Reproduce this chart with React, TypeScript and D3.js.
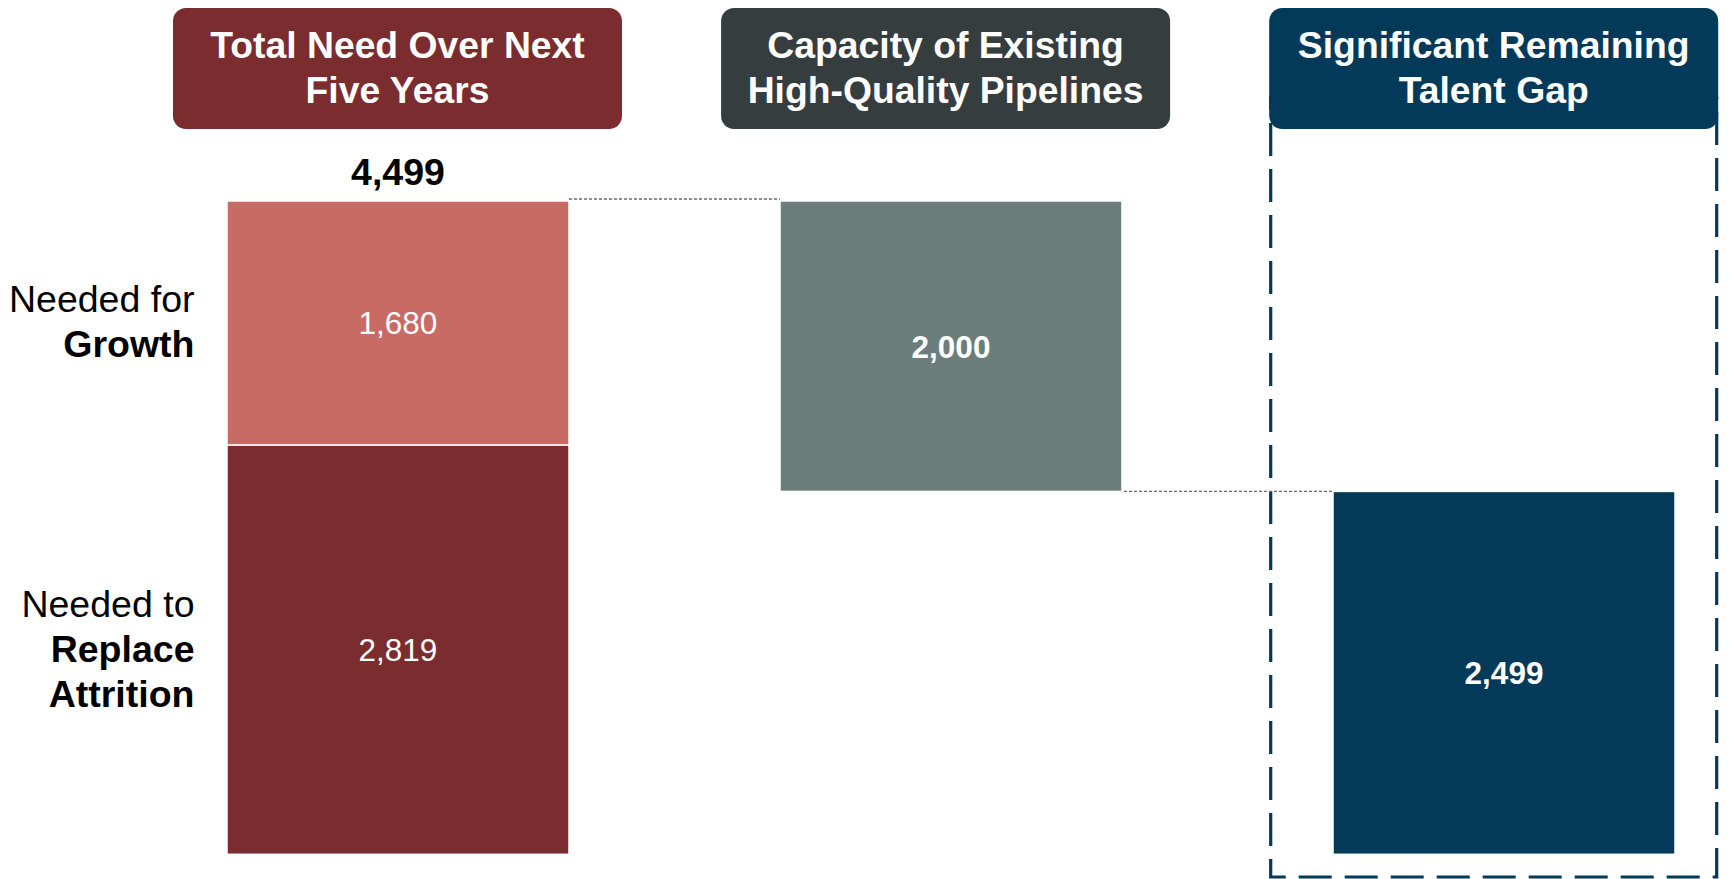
import React from "react";
import * as d3 from "d3";

const categories = ["total", "capacity", "gap"];
const headers = [
  ["Total Need Over Next", "Five Years"],
  ["Capacity of Existing", "High-Quality Pipelines"],
  ["Significant Remaining", "Talent Gap"],
];
const attrition = 2819;
const growth = 1680;
const total = 4499;
const capacity = 2000;
const gap = 2499;

const W = 1729;
const H = 879;
const FONT = "'Liberation Sans', Arial, Helvetica, sans-serif";

const C_PINK = "#C86B65";
const C_DARKRED = "#7A2C2E";
const C_BOX2 = "#363D3F";
const C_GREY = "#6C7E7C";
const C_NAVY = "#033A5A";

const fmt = d3.format(",");

export default function App() {
  const x = d3.scaleBand<string>().domain(categories).range([227, 1675]).paddingInner(0.3816).paddingOuter(0);
  const hx = d3.scaleBand<string>().domain(categories).range([173, 1718.2]).paddingInner(0.1808).paddingOuter(0);
  const y = d3.scaleLinear().domain([0, total]).range([854.3, 201]);
  const bw = x.bandwidth();

  const segs = [
    { cat: "total", y0: 0, y1: attrition, fill: C_DARKRED, label: fmt(attrition), bold: false },
    { cat: "total", y0: attrition, y1: attrition + growth, fill: C_PINK, label: fmt(growth), bold: false },
    { cat: "capacity", y0: total - capacity, y1: total, fill: C_GREY, label: fmt(capacity), bold: true },
    { cat: "gap", y0: 0, y1: gap, fill: C_NAVY, label: fmt(gap), bold: true },
  ];
  const headerFills = [C_DARKRED, C_BOX2, C_NAVY];

  const gx = hx("gap")!;
  return (
    <svg width={W} height={H} style={{ position: "absolute", left: 0, top: 0, background: "#fff" }} fontFamily={FONT}>
      {/* dashed highlight frame */}
      <rect x={gx + 1.5} y={98} width={hx.bandwidth() - 3} height={877 - 98} fill="none" stroke={C_NAVY} strokeWidth={3.2} strokeDasharray="33,13" />

      {/* connectors */}
      <line x1={x("total")! + bw} x2={x("capacity")!} y1={y(total) - 2} y2={y(total) - 2} stroke="#6a6a6a" strokeWidth={1.3} strokeDasharray="3,2" />
      <line x1={x("capacity")! + bw + 2} x2={x("gap")!} y1={y(total - capacity)} y2={y(total - capacity)} stroke="#6a6a6a" strokeWidth={1.3} strokeDasharray="3,2" />

      {/* bars */}
      {segs.map((s, i) => (
        <g key={i}>
          <rect x={x(s.cat)} y={y(s.y1)} width={bw} height={y(s.y0) - y(s.y1)} fill={s.fill} stroke="#fff" strokeWidth={1.5} />
          <text x={x(s.cat)! + bw / 2} y={(y(s.y0) + y(s.y1)) / 2} dy="0.36em" textAnchor="middle" fill="#fff" fontSize={31.5} fontWeight={s.bold ? 700 : 400}>
            {s.label}
          </text>
        </g>
      ))}

      {/* total label */}
      <text x={x("total")! + bw / 2} y={y(total) - 16} textAnchor="middle" fontSize={37.5} fontWeight={700} fill="#000">
        {fmt(total)}
      </text>

      {/* headers */}
      {categories.map((c, i) => (
        <g key={c}>
          <rect x={hx(c)} y={8} width={hx.bandwidth()} height={121} rx={13} ry={13} fill={headerFills[i]} />
          <text x={hx(c)! + hx.bandwidth() / 2} y={58} textAnchor="middle" fill="#fff" fontSize={37.3} fontWeight={700}>
            {headers[i][0]}
          </text>
          <text x={hx(c)! + hx.bandwidth() / 2} y={102.5} textAnchor="middle" fill="#fff" fontSize={37.3} fontWeight={700}>
            {headers[i][1]}
          </text>
        </g>
      ))}

      {/* side labels */}
      <g textAnchor="end" fill="#000" fontSize={37.5}>
        <text x={194.5} y={311.5}>Needed for</text>
        <text x={194.5} y={357} fontWeight={700}>Growth</text>
        <text x={194.5} y={617}>Needed to</text>
        <text x={194.5} y={662} fontWeight={700}>Replace</text>
        <text x={194.5} y={707} fontWeight={700}>Attrition</text>
      </g>
    </svg>
  );
}
